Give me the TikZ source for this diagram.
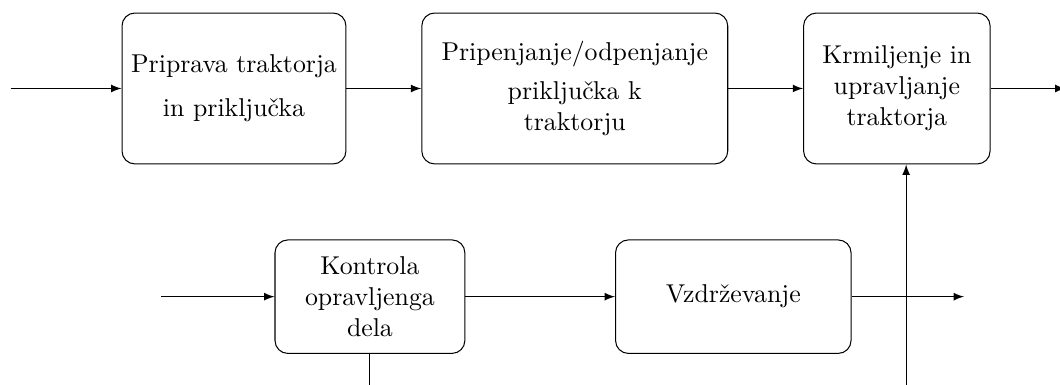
\documentclass[tikz,border=0pt]{standalone}
\usepackage{tikz}
\usetikzlibrary{positioning}

\begin{document}
\begin{tikzpicture}[box/.style = {draw, rounded corners=5pt, align=center, minimum height=58.5pt}, low/.style = {box, minimum height=44pt}, >=latex, node distance={29pt}]
        \useasboundingbox (0,0) rectangle (410.9pt,-149.2pt);
        \node[box, minimum width=86.8pt] (1) at (90.7pt,-34.3pt) {Priprava traktorja\\[5pt]in priključka};
        \node[box, minimum width=118.6pt] (2) [right=of 1] {Pripenjanje/odpenjanje\\[3pt]priključka k\\traktorju};
        \node[box, minimum width=72.3pt] (3) [right=of 2] {Krmiljenje in\\upravljanje\\traktorja};
        \node[low, minimum width=73.6pt] (4) at (143.4pt,-115pt) {Kontrola\\opravljenga\\dela};
        \node[low, minimum width=91.3pt] (5) [right=58pt of 4] {Vzdrževanje};
        \coordinate[left=43pt of 1] (in1);
        \coordinate[right=29pt of 3] (out3);
        \coordinate[left=43.8pt of 4] (in4);
        \coordinate[right=43.6pt of 5] (out5);
        \coordinate[below=14pt of 4] (end4);
        \coordinate (start3) at ([xshift=3.6pt,yshift=-90pt]3.south);
        \draw[->] (in1) -- (1);
        \draw[->] (1) -- (2);
        \draw[->] (2) -- (3);
        \draw[->] (3) -- (out3);
        \draw[->] (in4) -- (4);
        \draw[->] (4) -- (5);
        \draw[->] (5) -- (out5);
        \draw (4) -- (end4);
        \draw[->] (start3) -- (start3 |- 3.south);
\end{tikzpicture}
\end{document}
